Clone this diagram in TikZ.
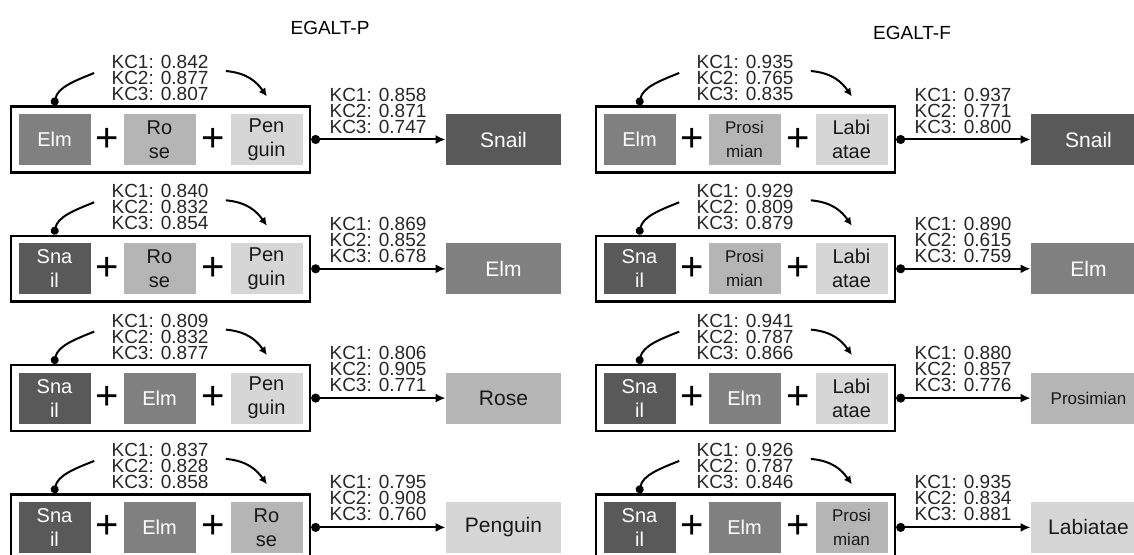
\documentclass[tikz,border=0pt]{standalone}
\usepackage{fontspec}
\setmainfont{Liberation Sans}
\usetikzlibrary{arrows.meta,fit}
\definecolor{snailgray}{gray}{0.35}
\definecolor{elmgray}{gray}{0.5}
\definecolor{rosegray}{gray}{0.71}
\definecolor{pengray}{gray}{0.84}
\newcommand{\kc}[3]{KC1: #1\\KC2: #2\\KC3: #3}

\begin{document}
\begin{tikzpicture}[x=0.5pt,y=-0.5pt,
  box/.style={minimum width=36pt,minimum height=25.5pt,inner sep=0pt,align=center,
    font=\fontsize{10}{12}\selectfont,text=black!90},
  tbox/.style={box,minimum width=57.5pt,font=\fontsize{10.5}{12}\selectfont},
  snail/.style={box,fill=snailgray,text=white,node contents={Sna\\il}},
  elm/.style={box,fill=elmgray,text=white,node contents={Elm}},
  rose/.style={box,fill=rosegray,node contents={Ro\\se}},
  pen/.style={box,fill=pengray,node contents={Pen\\guin}},
  prosi/.style={box,fill=rosegray,font=\fontsize{8.5}{12}\selectfont,node contents={Prosi\\mian}},
  labi/.style={box,fill=pengray,node contents={Labi\\atae}},
  tsnail/.style={tbox,fill=snailgray,text=white,node contents={Snail}},
  telm/.style={tbox,fill=elmgray,text=white,node contents={Elm}},
  trose/.style={tbox,fill=rosegray,node contents={Rose}},
  tpen/.style={tbox,fill=pengray,node contents={Penguin}},
  tprosi/.style={tbox,fill=rosegray,font=\fontsize{8.5}{12}\selectfont,node contents={Prosimian}},
  tlabi/.style={tbox,fill=pengray,node contents={Labiatae}},
  plus/.style={inner sep=0pt,font=\fontsize{20}{20}\selectfont},
  frame/.style={draw,line width=1.25pt,inner sep=3.5pt},
  kc/.style={align=center,inner sep=1pt,font=\fontsize{9.5}{8}\selectfont,text=black!85},
  title/.style={font=\fontsize{9.5}{11}\selectfont},
  link/.style={{Circle[length=4.5pt]}-{Latex[length=5pt,width=4.5pt]},line width=1pt},
  bendin/.style={{Circle[length=4pt]}-,line width=1pt},
  bendout/.style={-{Latex[length=4pt,width=4pt]},line width=1pt}]
  \useasboundingbox (0,0) rectangle (1134,555);
  \node[title] (egp) at (330,28) {EGALT-P};
  \node[title] (egf) at (912,33) {EGALT-F};
  \foreach \x/\i/\A/\B/\C/\T/\up/\rt [count=\k] in {
    0/0/elm/rose/pen/tsnail/{\kc{0.842}{0.877}{0.807}}/{\kc{0.858}{0.871}{0.747}},
    0/1/snail/rose/pen/telm/{\kc{0.840}{0.832}{0.854}}/{\kc{0.869}{0.852}{0.678}},
    0/2/snail/elm/pen/trose/{\kc{0.809}{0.832}{0.877}}/{\kc{0.806}{0.905}{0.771}},
    0/3/snail/elm/rose/tpen/{\kc{0.837}{0.828}{0.858}}/{\kc{0.795}{0.908}{0.760}},
    585/0/elm/prosi/labi/tsnail/{\kc{0.935}{0.765}{0.835}}/{\kc{0.937}{0.771}{0.800}},
    585/1/snail/prosi/labi/telm/{\kc{0.929}{0.809}{0.879}}/{\kc{0.890}{0.615}{0.759}},
    585/2/snail/elm/labi/tprosi/{\kc{0.941}{0.787}{0.866}}/{\kc{0.880}{0.857}{0.776}},
    585/3/snail/elm/prosi/tlabi/{\kc{0.926}{0.787}{0.846}}/{\kc{0.935}{0.834}{0.881}}}{
    \begin{scope}[shift={(\x,129.3*\i)}]
      \node (a\k) at (54.5,139.5) [\A];
      \node (b\k) at (159.5,139.5) [\B];
      \node (c\k) at (266.5,139.5) [\C];
      \node[plus] (p\k) at (107.5,139.5) {+};
      \node[plus] (q\k) at (213,139.5) {+};
      \node[frame,fit=(a\k)(c\k)] (f\k) {};
      \node (t\k) at (503.5,139.5) [\T];
      \node[kc] (u\k) at (160,78) {\up};
      \node[kc] (v\k) at (378,110.5) {\rt};
      \draw[link] (f\k) -- (t\k);
      % loop over the upper label
      \draw[bendin] ([xshift=22pt]f\k.north west) .. controls +(4,-18) and +(-20,8) .. ([xshift=-7.5pt,yshift=2.5pt]u\k.west);
      \draw[bendout] ([xshift=7.5pt,yshift=3.5pt]u\k.east) .. controls +(22,2) and +(-10,-14) .. ([xshift=128.5pt,yshift=4.5pt]f\k.north west);
    \end{scope}
  }
\end{tikzpicture}
\end{document}
